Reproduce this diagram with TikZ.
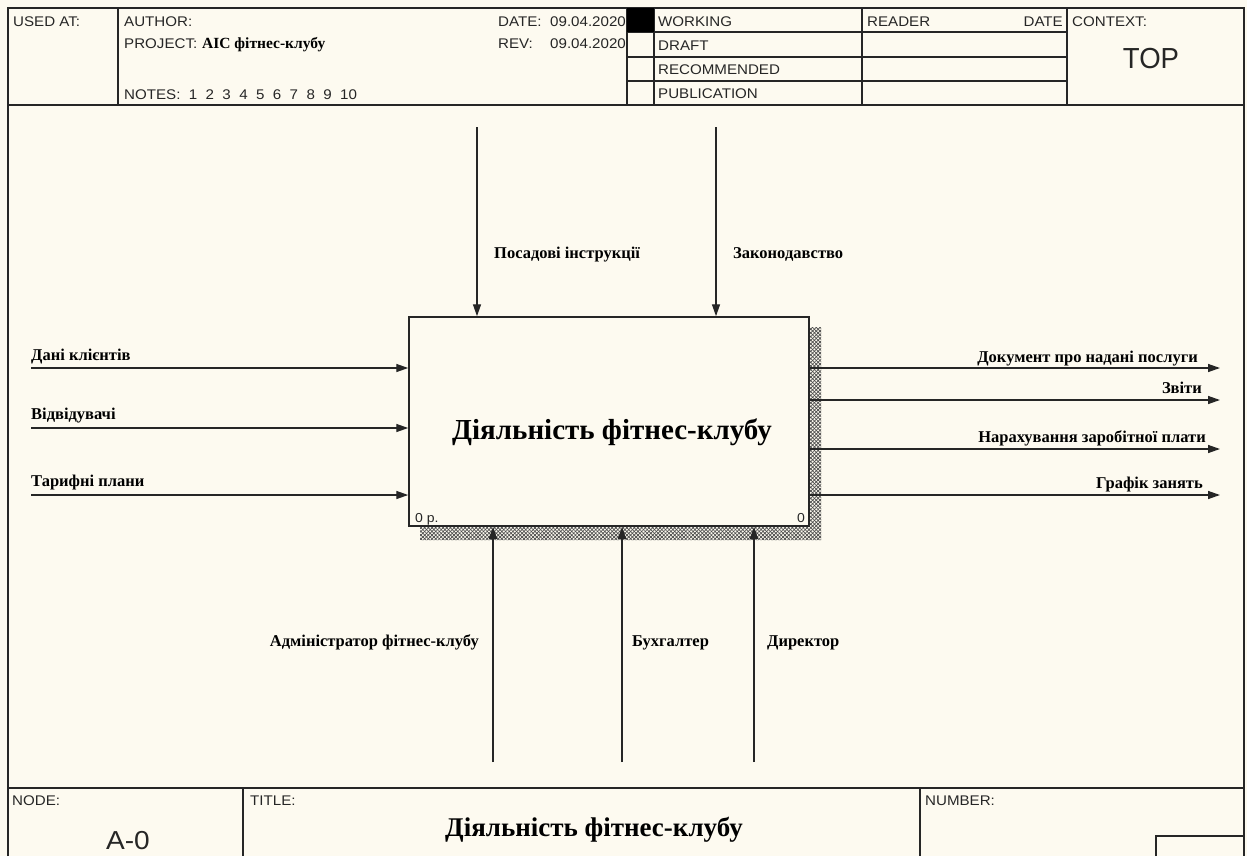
\documentclass[tikz,border=0pt]{standalone}
\usepackage{fontspec}
\setmainfont{Liberation Serif}
\newfontfamily\hdrfont[FakeStretch=1.08]{Liberation Sans}
\newfontfamily\topfont[FakeStretch=0.95]{Liberation Sans}
\newfontfamily\lblfont{Liberation Serif}
\usetikzlibrary{arrows.meta,patterns.meta}
\definecolor{paper}{RGB}{253,250,240}
\definecolor{ink}{RGB}{38,38,38}

\begin{document}
\begin{tikzpicture}[x=1pt,y=-1pt,
  frame/.style={draw=ink,line width=1.7pt},
  rule/.style={draw=ink,line width=1.3pt},
  hdr/.style={font=\hdrfont\fontsize{14}{14}\selectfont,text=ink,inner sep=0pt,anchor=base west},
  lab/.style={font=\lblfont\bfseries\fontsize{16.5}{16.5}\selectfont,text=black,inner sep=0pt},
  flow/.style={draw=ink,line width=1.4pt,-{Triangle[length=12pt,width=8pt]}},
  actbox/.style={draw=ink,line width=1.5pt,fill=paper,minimum width=400pt,minimum height=209pt,inner sep=0pt},
  hatch/.style={pattern={Lines[angle=#1,distance=2.6pt,line width=0.7pt]},pattern color=black!70},
]
% page
\fill[paper] (0,0) rectangle (1247,856);

% ---------- outer frame ----------
\draw[frame] (8,856) -- (8,8) -- (1244,8) -- (1244,856);

% ---------- header ----------
\draw[frame] (8,105) -- (1244,105);
\draw[rule] (118,8) -- (118,105);
\draw[rule] (627,8) -- (627,105);
\draw[rule] (654,8) -- (654,105);
\draw[rule] (862,8) -- (862,105);
\draw[rule] (1067,8) -- (1067,105);
\foreach \yy in {32,57,81} \draw[rule] (627,\yy) -- (1067,\yy);
\fill[black] (627,8) rectangle (654,32);

\node[hdr] (usedat) at (13,26) {USED AT:};
\node[hdr] (author) at (124,26) {AUTHOR:};
\node[hdr] (project) at (124,48) {PROJECT:};
\node[lab,anchor=base west,font=\lblfont\bfseries\fontsize{15.5}{15.5}\selectfont] (projname) at (202,48) {АІС фітнес-клубу};
\node[hdr] (notes) at (124,99) {NOTES:\ \ 1\ \ 2\ \ 3\ \ 4\ \ 5\ \ 6\ \ 7\ \ 8\ \ 9\ \ 10};
\begin{scope}
  \clip (118,8) rectangle (627,105);
  \node[hdr] (datelbl) at (498,26) {DATE:};
  \node[hdr] (dateval) at (550,26) {09.04.2020};
  \node[hdr] (revlbl) at (498,48) {REV:};
  \node[hdr] (revval) at (550,48) {09.04.2020};
\end{scope}
\node[hdr] (working) at (658,26) {WORKING};
\node[hdr] (draft) at (658,50) {DRAFT};
\node[hdr] (recommended) at (658,74) {RECOMMENDED};
\node[hdr] (publication) at (658,98) {PUBLICATION};
\node[hdr] (reader) at (867,26) {READER};
\node[hdr,anchor=base east] (readerdate) at (1063,26) {DATE};
\node[hdr] (context) at (1072,26) {CONTEXT:};
\node[font=\topfont\fontsize{29}{29}\selectfont,text=ink,inner sep=0pt,anchor=base] (topctx) at (1151,68) {TOP};

% ---------- footer ----------
\draw[frame] (8,788) -- (1244,788);
\draw[rule] (243,788) -- (243,856);
\draw[rule] (920,788) -- (920,856);
\draw[rule] (1156,856) -- (1156,836) -- (1244,836);
\node[hdr] (nodelbl) at (12,805) {NODE:};
\node[hdr] (titlelbl) at (250,805) {TITLE:};
\node[hdr] (numberlbl) at (925,805) {NUMBER:};
\node[font=\hdrfont\fontsize{26}{26}\selectfont,text=ink,inner sep=0pt,anchor=base] (nodenum) at (128,849) {A-0};
\node[lab,anchor=base,font=\lblfont\bfseries\fontsize{27}{27}\selectfont] (titletext) at (594,836) {Діяльність фітнес-клубу};

% ---------- activity box with shadow ----------
\path[hatch=45] (809,327) -- (821,327) -- (821,540) -- (420,540) -- (420,526) -- (809,526) -- cycle;
\path[hatch=-45] (809,327) -- (821,327) -- (821,540) -- (420,540) -- (420,526) -- (809,526) -- cycle;
\node[actbox] (act) at (609,421.5) {};
\node[lab,anchor=base,font=\lblfont\bfseries\fontsize{29}{29}\selectfont] (acttitle) at (612,439) {Діяльність фітнес-клубу};
\node[font=\hdrfont\fontsize{13}{13}\selectfont,text=ink,inner sep=0pt,anchor=base west] (actcost) at (415,522) {0 р.};
\node[font=\hdrfont\fontsize{13}{13}\selectfont,text=ink,inner sep=0pt,anchor=base east] (actnum) at (805,522) {0};

% ---------- controls (top) ----------
\coordinate (c1) at (477,127);
\coordinate (c2) at (716,127);
\draw[flow] (c1) -- (c1 |- act.north);
\draw[flow] (c2) -- (c2 |- act.north);
\node[lab,anchor=base west] (c1lab) at (494,258) {Посадові інструкції};
\node[lab,anchor=base west] (c2lab) at (733,258) {Законодавство};

% ---------- inputs (left) ----------
\coordinate (i1) at (31,368);
\coordinate (i2) at (31,428);
\coordinate (i3) at (31,495);
\draw[flow] (i1) -- (i1 -| act.west);
\draw[flow] (i2) -- (i2 -| act.west);
\draw[flow] (i3) -- (i3 -| act.west);
\node[lab,anchor=base west] (i1lab) at (31,360) {Дані клієнтів};
\node[lab,anchor=base west] (i2lab) at (31,419) {Відвідувачі};
\node[lab,anchor=base west] (i3lab) at (31,486) {Тарифні плани};

% ---------- outputs (right) ----------
\coordinate (o1) at (1220,368);
\coordinate (o2) at (1220,400);
\coordinate (o3) at (1220,449);
\coordinate (o4) at (1220,495);
\draw[flow] (o1 -| act.east) -- (o1);
\draw[flow] (o2 -| act.east) -- (o2);
\draw[flow] (o3 -| act.east) -- (o3);
\draw[flow] (o4 -| act.east) -- (o4);
\node[lab,anchor=base east] (o1lab) at (1198,362) {Документ про надані послуги};
\node[lab,anchor=base east] (o2lab) at (1202,393) {Звіти};
\node[lab,anchor=base east] (o3lab) at (1206,442) {Нарахування заробітної плати};
\node[lab,anchor=base east] (o4lab) at (1203,488) {Графік занять};

% ---------- mechanisms (bottom) ----------
\coordinate (m1) at (493,762);
\coordinate (m2) at (622,762);
\coordinate (m3) at (754,762);
\draw[flow] (m1) -- (m1 |- act.south);
\draw[flow] (m2) -- (m2 |- act.south);
\draw[flow] (m3) -- (m3 |- act.south);
\node[lab,anchor=base east] (m1lab) at (479,646) {Адміністратор фітнес-клубу};
\node[lab,anchor=base west] (m2lab) at (632,646) {Бухгалтер};
\node[lab,anchor=base west] (m3lab) at (767,646) {Директор};
\end{tikzpicture}
\end{document}
